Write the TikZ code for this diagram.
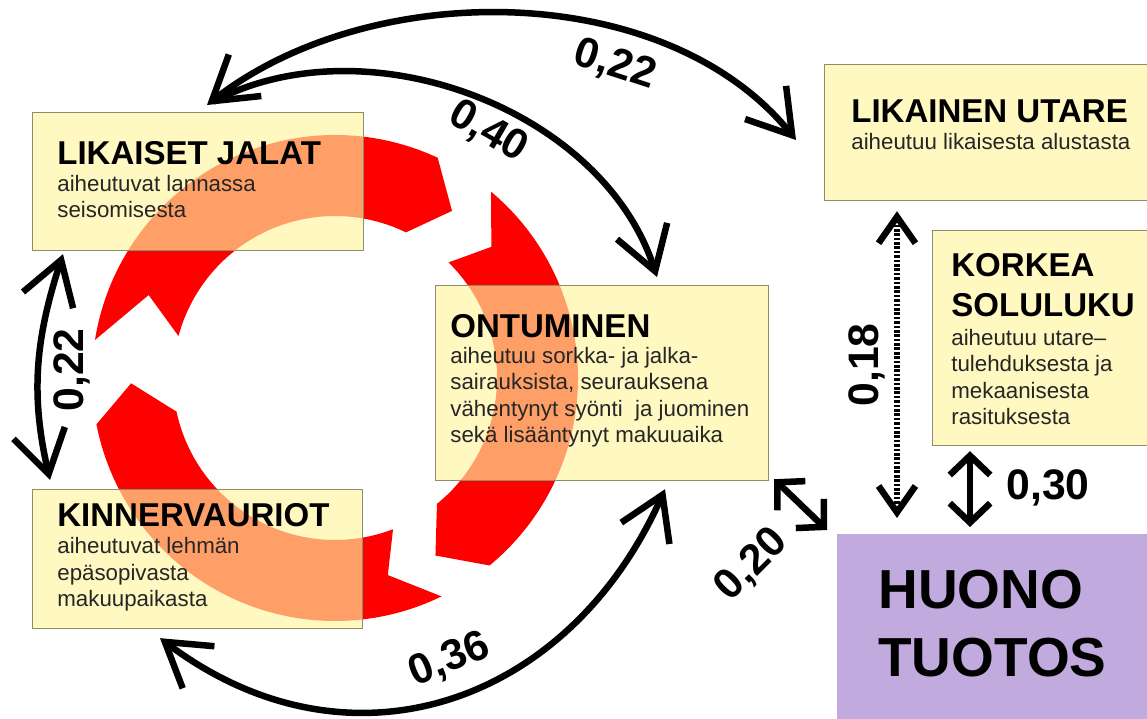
\documentclass[tikz,border=0pt]{standalone}
\usepackage{fontspec}
\setmainfont{Liberation Sans}
\usetikzlibrary{arrows.meta}

\definecolor{boxfill}{RGB}{255,245,160}
\definecolor{boxline}{RGB}{140,140,110}
\definecolor{lilac}{RGB}{193,170,222}
\definecolor{ringred}{RGB}{255,0,0}

\begin{document}
\begin{tikzpicture}[
    x=0.02cm, y=0.02cm,
    box/.style={rectangle, draw=boxline, line width=0.7pt, fill=boxfill, fill opacity=0.65, anchor=north west, inner sep=0pt},
    ttl/.style={anchor=base west, inner sep=0pt, align=left, font=\fontsize{18.8}{22.8}\selectfont\bfseries},
    sub/.style={anchor=base west, inner sep=0pt, align=left, text=black!85, font=\fontsize{12.7}{15.1}\selectfont},
    num/.style={inner sep=0pt, font=\fontsize{24.3}{24}\selectfont\bfseries},
    link/.style={line width=3.7pt},
    barb/.tip={Straight Barb[length=24pt,width=30pt]},
    minibarb/.tip={Straight Barb[length=11pt,width=23pt]},
    dotbarb/.tip={Straight Barb[length=15pt,width=21pt]}
]

\useasboundingbox (0,0) rectangle (1147,719);
\clip (0,0) rectangle (1147,719);
\fill[white] (0,0) rectangle (1147,719);

% Red circle of arrows (clockwise)
\begin{scope}[shift={(335,341)}]
\fill[ringred] (171:243) arc[start angle=171, end angle=65, radius=243] -- (55:204)
    -- (64:162) arc[start angle=64, end angle=165, radius=162] -- (156:204) -- cycle;
\fill[ringred] (50:243) arc[start angle=50, end angle=-50.5, radius=243] -- (-60.5:204)
    -- (-51:162) arc[start angle=-51, end angle=45.5, radius=162] -- (40:204) -- cycle;
\fill[ringred] (-64:243) arc[start angle=-64, end angle=-169, radius=243] -- (-178.5:204)
    -- (-168:162) arc[start angle=-168, end angle=-69, radius=162] -- (-75:204) -- cycle;
\end{scope}

% Likaiset jalat (multi-line texts sit on their last baseline)
\node[box, minimum width=6.62cm, minimum height=2.76cm] (jalat) at (32,607) {};
\node[ttl] (jalat-t) at (57,554) {LIKAISET JALAT};
\node[sub] (jalat-s) at (57,501) {aiheutuvat lannassa\\seisomisesta};

% Kinnervauriot
\node[box, minimum width=6.6cm, minimum height=2.78cm] (kinner) at (32,230) {};
\node[ttl] (kinner-t) at (57,192) {KINNERVAURIOT};
\node[sub] (kinner-s) at (57,112) {aiheutuvat lehmän\\epäsopivasta\\makuupaikasta};

% Ontuminen
\node[box, minimum width=6.66cm, minimum height=3.9cm] (ontum) at (435,434) {};
\node[ttl] (ontum-t) at (450,381) {ONTUMINEN};
\node[sub] (ontum-s) at (450,276) {aiheutuu sorkka- ja jalka-\\sairauksista, seurauksena\\vähentynyt syönti\ \ ja juominen\\sekä lisääntynyt makuuaika};

% Likainen utare
\node[box, minimum width=6.72cm, minimum height=2.72cm] (utare) at (824,655) {};
\node[ttl] (utare-t) at (851,596) {LIKAINEN UTARE};
\node[sub] (utare-s) at (851,569) {aiheutuu likaisesta alustasta};

% Korkea soluluku
\node[box, minimum width=4.56cm, minimum height=4.3cm] (solu) at (932,489) {};
\node[ttl] (solu-t) at (951,402) {KORKEA\\SOLULUKU};
\node[sub] (solu-s) at (951,294) {aiheutuu utare–\\tulehduksesta ja\\mekaanisesta\\rasituksesta};

% Huono tuotos
\node[box, fill=lilac, fill opacity=1, draw=none, minimum width=6.48cm, minimum height=3.94cm] (huono) at (836,186) {};
\node[ttl, font=\fontsize{31.3}{39}\selectfont\bfseries] (huono-t) at (878,42) {HUONO\\TUOTOS};

% Arrows
\draw[link, barb-barb] ([shift={(175,7)}]jalat.north west) to[out=38, in=129, looseness=0.9] ([shift={(-28,-76)}]utare.north west);
\draw[link, -barb, shorten <=4pt] ([shift={(175,7)}]jalat.north west) to[out=28, in=108, looseness=0.95] ([shift={(222,8)}]ontum.north west);
\draw[link, barb-barb] ([shift={(18,9)}]kinner.north west) to[out=103, in=252] ([shift={(31,-3)}]jalat.south west);
\draw[link, barb-barb] ([shift={(230,-8)}]ontum.south west) to[out=246, in=323, looseness=1.15] ([shift={(128,-9)}]kinner.south west);
\draw[link, minibarb-minibarb] ([shift={(5,2)}]ontum.south east) -- ([shift={(-9,3)}]huono.north west);
\draw[link, dotbarb-dotbarb, dash pattern=on 1.5pt off 1pt] ([shift={(73,-10)}]utare.south west) -- ([shift={(61,15)}]huono.north west);
\draw[link, minibarb-minibarb] ([shift={(38,-5)}]solu.south west) -- ([shift={(134,6)}]huono.north west);

% Correlations
\node[num, rotate=-18] (lbl-a) at (615,654) {0,22};
\node[num, rotate=-30] (lbl-b) at (488,587) {0,40};
\node[num, rotate=90] (lbl-c) at (72,349) {0,22};
\node[num, rotate=22] (lbl-d) at (450,59) {0,36};
\node[num, rotate=45] (lbl-e) at (752,154) {0,20};
\node[num, rotate=90] (lbl-f) at (867,354) {0,18};
\node[num] (lbl-g) at (1048,231) {0,30};

\end{tikzpicture}
\end{document}
